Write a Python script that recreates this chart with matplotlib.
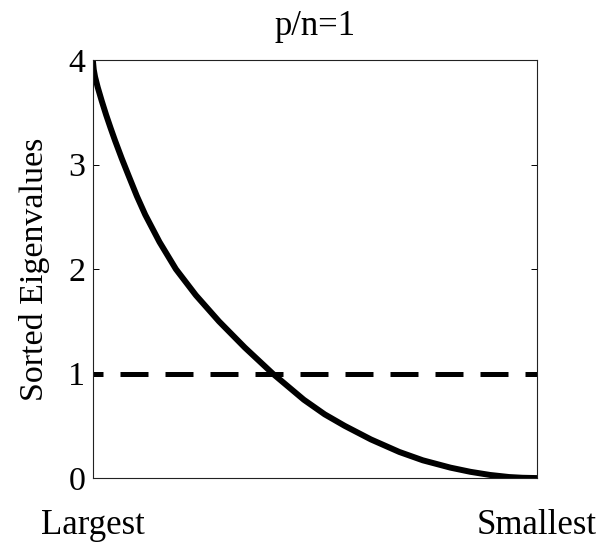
import numpy as np
import matplotlib.pyplot as plt

plt.rcParams['font.family'] = ['Liberation Serif', 'DejaVu Serif']

# sorted eigenvalues, read along the rank axis (0 = largest, 1 = smallest)
rank = [0.000, 0.002, 0.005, 0.011, 0.020, 0.030, 0.040, 0.050, 0.065,
        0.080, 0.099, 0.118, 0.150, 0.187, 0.232, 0.284, 0.342, 0.405,
        0.475, 0.522, 0.567, 0.626, 0.690, 0.743, 0.805, 0.850, 0.894,
        0.937, 0.967, 1.000]
eigenvalues = [4.00, 3.91, 3.84, 3.74, 3.61, 3.475, 3.35, 3.23, 3.06,
               2.90, 2.70, 2.52, 2.26, 2.00, 1.75, 1.50, 1.25, 1.00,
               0.75, 0.61, 0.50, 0.37, 0.25, 0.17, 0.10, 0.06, 0.03,
               0.01, 0.003, 0.00]
population_level = 1.0
yticks = [0, 1, 2, 3, 4]
xtick_labels = ['Largest', 'Smallest']

fig = plt.figure(figsize=(5.99, 5.47), dpi=100)
ax = fig.add_axes([0.155, 0.126, 0.7415, 0.764])

ax.plot(rank, eigenvalues, color='black', lw=4.3, solid_capstyle='butt',
        solid_joinstyle='round')
ax.plot([0, 1], [population_level, population_level], color='black', lw=3.6,
        linestyle=(3.6, (5.6, 3.4)), dash_capstyle='butt')

ax.set_xlim(0, 1)
ax.set_ylim(0, 4)
ax.set_yticks(yticks)
ax.set_xticks([0, 1])
ax.set_xticklabels(xtick_labels)
ax.tick_params(axis='y', direction='in', length=4, width=0.7, pad=5.5,
               labelsize=24.5, right=True)
ax.tick_params(axis='x', length=0, pad=22, labelsize=25)

for s in ax.spines.values():
    s.set_linewidth(0.8)
    s.set_color('#222222')

ax.set_ylabel('Sorted Eigenvalues', fontsize=24.5, labelpad=13)
ax.set_title('p/n=1', fontsize=25, pad=18)

fig.savefig('out.png', dpi=100)
